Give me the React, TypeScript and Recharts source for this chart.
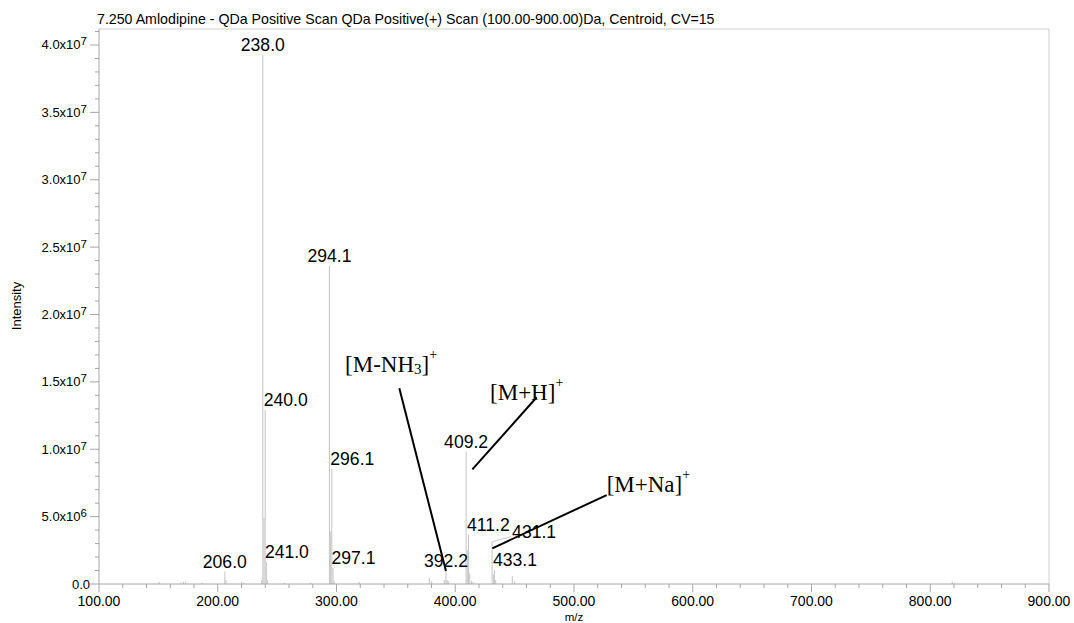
import React from 'react';
import {
  ComposedChart,
  Bar,
  XAxis,
  YAxis,
  LabelList,
  ReferenceLine,
  ReferenceDot,
} from 'recharts';

// ---- Spectrum data (centroid peaks) ----
const peakMz = [
  150.7, 169.0, 171.1, 173.0, 187.0, 206.0, 207.0, 220.1, 222.0, 237.0,
  238.0, 239.0, 240.0, 241.0, 242.0, 256.1, 278.1, 294.1, 295.1, 296.1,
  297.1, 298.1, 319.1, 378.2, 380.2, 390.8, 392.2, 393.2, 394.2, 409.2,
  410.2, 411.2, 412.2, 413.8, 415.2, 431.1, 432.1, 433.1, 434.1, 448.1,
  450.1, 818.6, 820.6,
];
const peakIntensity = [
  150000, 100000, 150000, 200000, 100000, 920000, 300000, 150000, 100000, 300000,
  39260000, 4900000, 12910000, 1630000, 300000, 100000, 100000, 23600000, 3900000, 8530000,
  1190000, 250000, 150000, 450000, 200000, 300000, 1000000, 300000, 200000, 9820000,
  2500000, 3640000, 800000, 250000, 150000, 3140000, 700000, 1040000, 300000, 600000,
  200000, 150000, 100000,
];
const labeledPeaks = [
  '206.0', '238.0', '240.0', '241.0', '294.1', '296.1', '297.1',
  '392.2', '409.2', '411.2', '431.1', '433.1',
];

// Ion annotations with their leader lines (data units)
const ionAnnotations = [
  { base: '[M-NH', sub: '3', sup: '+', mz: 307.2, intensity: 15760000 },
  { base: '[M+H', sub: '', sup: '+', mz: 429.3, intensity: 13650000 },
  { base: '[M+Na', sub: '', sup: '+', mz: 527.5, intensity: 6850000 },
];
const ionLeaders = [
  { from: { mz: 352.9, intensity: 14520000 }, to: { mz: 392.2, intensity: 960000 } },
  { from: { mz: 468.6, intensity: 13860000 }, to: { mz: 414.4, intensity: 8510000 } },
  { from: { mz: 527.5, intensity: 6600000 }, to: { mz: 431.2, intensity: 2650000 } },
];

// Axis ticks
const xTicks = Array.from({ length: 41 }, (_, i) => 100 + i * 20);
const yTicks = Array.from({ length: 42 }, (_, i) => i * 1000000);
const Y_MAX = 41187000;

const TITLE =
  '7.250 Amlodipine - QDa Positive Scan QDa Positive(+) Scan (100.00-900.00)Da, Centroid, CV=15';

const spectrum = peakMz.map((mz, i) => {
  const key = mz.toFixed(1);
  return {
    mz,
    intensity: peakIntensity[i],
    label: labeledPeaks.includes(key) ? key : '',
  };
});

// How each peak label sits relative to its stick
const labelPlacement: Record<string, 'center' | 'start' | 'leader'> = {
  '240.0': 'start',
  '241.0': 'start',
  '296.1': 'start',
  '297.1': 'start',
  '411.2': 'start',
  '433.1': 'start',
  '431.1': 'leader',
};

const SANS = "Arial, 'Liberation Sans', sans-serif";
const SERIF = "'Times New Roman', 'Liberation Serif', serif";
const AXIS = '#a6a6a6';
const FRAME = '#cfcfcf';
const STICK = '#c8c8c8';

const YTick = (props: any) => {
  const { x, y, payload } = props;
  const v: number = payload.value;
  const major = v % 5000000 === 0;
  let mant = '0.0';
  let exp = '';
  if (v > 0) {
    const e = Math.floor(Math.log10(v));
    mant = (v / Math.pow(10, e)).toFixed(1) + 'x10';
    exp = String(e);
  }
  return (
    <g>
      <line x1={x - (major ? 9 : 4)} x2={x} y1={y} y2={y} stroke={AXIS} />
      {major && (
        <text x={x - (exp ? 12 : 9)} y={y + 4.5} textAnchor="end" fontFamily={SANS} fontSize={13} fill="#000">
          {mant}
          {exp && (
            <tspan dy={-4} fontSize={11.5}>
              {exp}
            </tspan>
          )}
        </text>
      )}
    </g>
  );
};

const XTick = (props: any) => {
  const { x, y, payload } = props;
  const v: number = payload.value;
  const major = v % 100 === 0;
  return (
    <g>
      <line x1={x} x2={x} y1={y} y2={y + (major ? 8 : 4)} stroke={AXIS} />
      {major && (
        <text x={x} y={y + 22} textAnchor="middle" fontFamily={SANS} fontSize={14} fill="#000">
          {v.toFixed(2)}
        </text>
      )}
    </g>
  );
};

const PeakLabel = (props: any) => {
  const vb = props.viewBox || {};
  const x = vb.x ?? props.x;
  const y = vb.y ?? props.y;
  const w = vb.width ?? props.width ?? 0;
  const value = props.value;
  if (!value) return null;
  const place = labelPlacement[value] ?? 'center';
  const cx = x + w / 2;
  const common = { fontFamily: SANS, fontSize: 17.6, fill: '#000' };
  if (place === 'center') {
    return (
      <text x={cx} y={y - 4} textAnchor="middle" {...common}>
        {value}
      </text>
    );
  }
  if (place === 'start') {
    return (
      <text x={cx - 1.5} y={y - 4} textAnchor="start" {...common}>
        {value}
      </text>
    );
  }
  return (
    <g>
      <line x1={cx} y1={y} x2={cx + 19} y2={y - 5} stroke={STICK} />
      <text x={cx + 20} y={y - 3.5} textAnchor="start" {...common}>
        {value}
      </text>
    </g>
  );
};

const IonText = (ion: (typeof ionAnnotations)[number]) => (p: any) => (
  <text x={p.cx} y={p.cy} fontFamily={SERIF} fontSize={23} fill="#000">
    {ion.base}
    {ion.sub && (
      <tspan dy={2} fontSize={15}>
        {ion.sub}
      </tspan>
    )}
    <tspan dy={ion.sub ? -2 : 0}>]</tspan>
    <tspan dy={-13} fontSize={14}>
      {ion.sup}
    </tspan>
  </text>
);

export default function App() {
  return (
    <div style={{ position: 'absolute', left: 0, top: 0, width: 1074, height: 623, background: '#fff' }}>
      <ComposedChart
        width={1074}
        height={623}
        data={spectrum}
        margin={{ top: 29, right: 25, bottom: 0, left: 0 }}
      >
        <XAxis
          dataKey="mz"
          type="number"
          domain={[100, 900]}
          ticks={xTicks}
          interval={0}
          allowDataOverflow
          height={39}
          tickLine={false}
          tickSize={0}
          tickMargin={0}
          axisLine={{ stroke: AXIS }}
          tick={<XTick />}
        />
        <YAxis
          type="number"
          domain={[0, Y_MAX]}
          ticks={yTicks}
          interval={0}
          allowDataOverflow
          width={99}
          tickLine={false}
          tickSize={0}
          tickMargin={0}
          axisLine={{ stroke: AXIS }}
          tick={<YTick />}
        />
        <ReferenceLine y={Y_MAX} stroke={FRAME} />
        <ReferenceLine x={900} stroke={FRAME} />
        <Bar dataKey="intensity" fill={STICK} barSize={1.5} isAnimationActive={false}>
          <LabelList dataKey="label" content={PeakLabel} />
        </Bar>
        {ionLeaders.map((l, i) => (
          <ReferenceLine
            key={'leader' + i}
            segment={[
              { x: l.from.mz, y: l.from.intensity },
              { x: l.to.mz, y: l.to.intensity },
            ]}
            stroke="#000"
            strokeWidth={2}
          />
        ))}
        {ionAnnotations.map((ion, i) => (
          <ReferenceDot
            key={'ion' + i}
            x={ion.mz}
            y={ion.intensity}
            r={0}
            shape={IonText(ion)}
          />
        ))}
      </ComposedChart>
      <svg
        width={1074}
        height={623}
        style={{ position: 'absolute', left: 0, top: 0, pointerEvents: 'none' }}
      >
        <text x={97} y={24} fontFamily={SANS} fontSize={14.2} fill="#000">
          {TITLE}
        </text>
        <text
          x={0}
          y={0}
          transform="translate(21 306) rotate(-90)"
          textAnchor="middle"
          fontFamily={SANS}
          fontSize={13}
          fill="#000"
        >
          Intensity
        </text>
        <text x={574} y={620.5} textAnchor="middle" fontFamily={SANS} fontSize={11.5} fill="#000">
          m/z
        </text>
      </svg>
    </div>
  );
}
